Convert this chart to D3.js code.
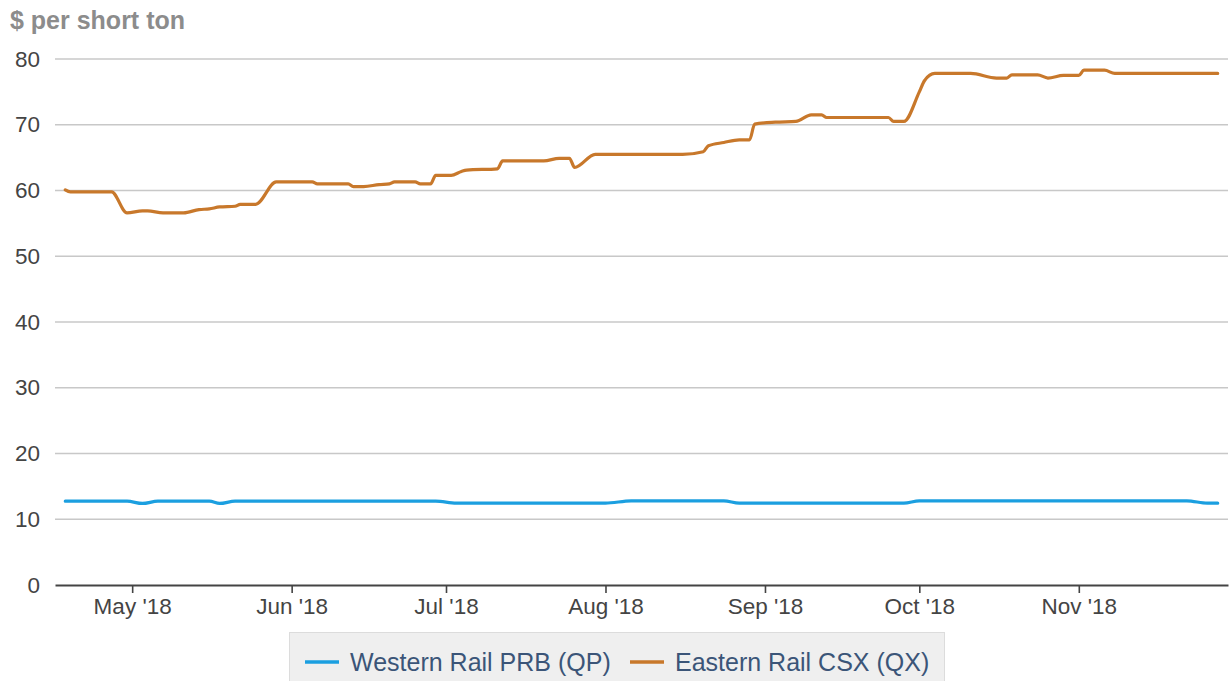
<!DOCTYPE html>
<html>
<head>
<meta charset="utf-8">
<script src="https://cdn.jsdelivr.net/npm/d3@7"></script>
<style>
  html, body { margin: 0; padding: 0; background: #fff; }
  svg { display: block; font-family: "Liberation Sans", Arial, sans-serif; }
</style>
</head>
<body>
<svg id="chart" width="1231" height="681"></svg>
<script>
// ---- data ----
const yAxisTitle = "$ per short ton";
const yTicks = [0, 10, 20, 30, 40, 50, 60, 70, 80];
const xTickDates = ["2018-05-01","2018-06-01","2018-07-01","2018-08-01","2018-09-01","2018-10-01","2018-11-01"];
const seriesNames = ["Western Rail PRB (QP)", "Eastern Rail CSX (QX)"];

const westernDates = ["2018-04-18","2018-04-30","2018-05-03","2018-05-06","2018-05-16","2018-05-18","2018-05-21","2018-06-29","2018-07-03","2018-08-01","2018-08-06","2018-08-24","2018-08-27","2018-09-28","2018-10-01","2018-11-22","2018-11-26","2018-11-28"];
const westernValues = [12.75,12.75,12.4,12.75,12.75,12.4,12.75,12.75,12.45,12.45,12.8,12.8,12.45,12.45,12.8,12.8,12.45,12.45];

const easternDates = ["2018-04-18","2018-04-19","2018-04-27","2018-04-30","2018-05-03","2018-05-04","2018-05-07","2018-05-11","2018-05-14","2018-05-16","2018-05-18","2018-05-21","2018-05-22","2018-05-25","2018-05-29","2018-06-05","2018-06-06","2018-06-12","2018-06-13","2018-06-15","2018-06-18","2018-06-20","2018-06-21","2018-06-25","2018-06-26","2018-06-28","2018-06-29","2018-07-02","2018-07-04","2018-07-05","2018-07-11","2018-07-12","2018-07-20","2018-07-23","2018-07-25","2018-07-26","2018-07-30","2018-08-16","2018-08-20","2018-08-21","2018-08-24","2018-08-27","2018-08-29","2018-08-30","2018-09-03","2018-09-07","2018-09-10","2018-09-12","2018-09-13","2018-09-25","2018-09-26","2018-09-28","2018-10-01","2018-10-02","2018-10-04","2018-10-11","2018-10-16","2018-10-18","2018-10-19","2018-10-24","2018-10-26","2018-10-29","2018-11-01","2018-11-02","2018-11-06","2018-11-08","2018-11-28"];
const easternValues = [60.1,59.8,59.8,56.6,56.9,56.9,56.6,56.6,57.1,57.2,57.5,57.6,57.9,57.9,61.3,61.3,61.0,61.0,60.6,60.6,60.9,61.0,61.3,61.3,61.0,61.0,62.3,62.3,62.9,63.1,63.3,64.5,64.5,64.9,64.9,63.5,65.5,65.5,65.9,66.8,67.3,67.7,67.7,70.1,70.4,70.5,71.5,71.5,71.1,71.1,70.5,70.5,75.0,76.7,77.8,77.8,77.1,77.1,77.6,77.6,77.1,77.5,77.5,78.3,78.3,77.8,77.8];

const xDomain = ["2018-04-16", "2018-11-30"];
const colors = ["#1b9fe0", "#c8782b"];

// ---- drawing ----
const parse = d3.timeParse("%Y-%m-%d");
const svg = d3.select("#chart");
const mLeft = 55, mRight = 1228, mTop = 59, mBottom = 585;

const x = d3.scaleTime().domain(xDomain.map(parse)).range([mLeft, mRight]);
const y = d3.scaleLinear().domain([0, 80]).range([mBottom, mTop]);

// gridlines
svg.append("g")
  .selectAll("line").data(yTicks.filter(d => d > 0)).join("line")
  .attr("x1", mLeft).attr("x2", mRight)
  .attr("y1", d => y(d)).attr("y2", d => y(d))
  .attr("stroke", "#c8c8c8").attr("stroke-width", 1.6);

// y axis labels
const yAxis = d3.axisLeft(y).tickValues(yTicks).tickSize(0).tickPadding(0);
const gy = svg.append("g").attr("transform", `translate(${mLeft - 15},0)`).call(yAxis);
gy.select(".domain").remove();
gy.selectAll("text").attr("font-size", 22.5).attr("fill", "#444").attr("font-family", "Liberation Sans, Arial, sans-serif");

// x axis
const xAxis = d3.axisBottom(x).tickValues(xTickDates.map(parse))
  .tickFormat(d3.timeFormat("%b '%y")).tickSize(8).tickSizeOuter(0).tickPadding(5);
const gx = svg.append("g").attr("transform", `translate(0,${mBottom})`).call(xAxis);
gx.select(".domain").attr("stroke", "#444").attr("stroke-width", 2.2);
gx.selectAll(".tick line").attr("stroke", "#444").attr("stroke-width", 1.6);
gx.selectAll("text").attr("font-size", 22.5).attr("fill", "#444").attr("font-family", "Liberation Sans, Arial, sans-serif");

// lines
const line = d3.line().x(d => x(d[0])).y(d => y(d[1])).curve(d3.curveMonotoneX);
const westData = westernDates.map((d, i) => [parse(d), westernValues[i]]);
const eastData = easternDates.map((d, i) => [parse(d), easternValues[i]]);
[westData, eastData].forEach((data, i) => {
  svg.append("path").datum(data)
    .attr("fill", "none").attr("stroke", colors[i]).attr("stroke-width", 3.2)
    .attr("stroke-linejoin", "round").attr("stroke-linecap", "round")
    .attr("d", line);
});

// title
svg.append("text").attr("x", 10).attr("y", 29)
  .attr("font-size", 25).attr("font-weight", "bold").attr("fill", "#8c8c8c")
  .text(yAxisTitle);

// legend
const lg = svg.append("g");
lg.append("rect").attr("x", 289.5).attr("y", 632.5).attr("width", 655).attr("height", 60)
  .attr("fill", "#efefef").attr("stroke", "#dcdcdc");
const legendItems = [{ x: 305, name: seriesNames[0], c: colors[0] }, { x: 630, name: seriesNames[1], c: colors[1] }];
legendItems.forEach(it => {
  lg.append("line").attr("x1", it.x).attr("x2", it.x + 34).attr("y1", 662).attr("y2", 662)
    .attr("stroke", it.c).attr("stroke-width", 3.5);
  lg.append("text").attr("x", it.x + 45).attr("y", 671)
    .attr("font-size", 25).attr("fill", "#3b5578").text(it.name);
});
</script>
</body>
</html>
